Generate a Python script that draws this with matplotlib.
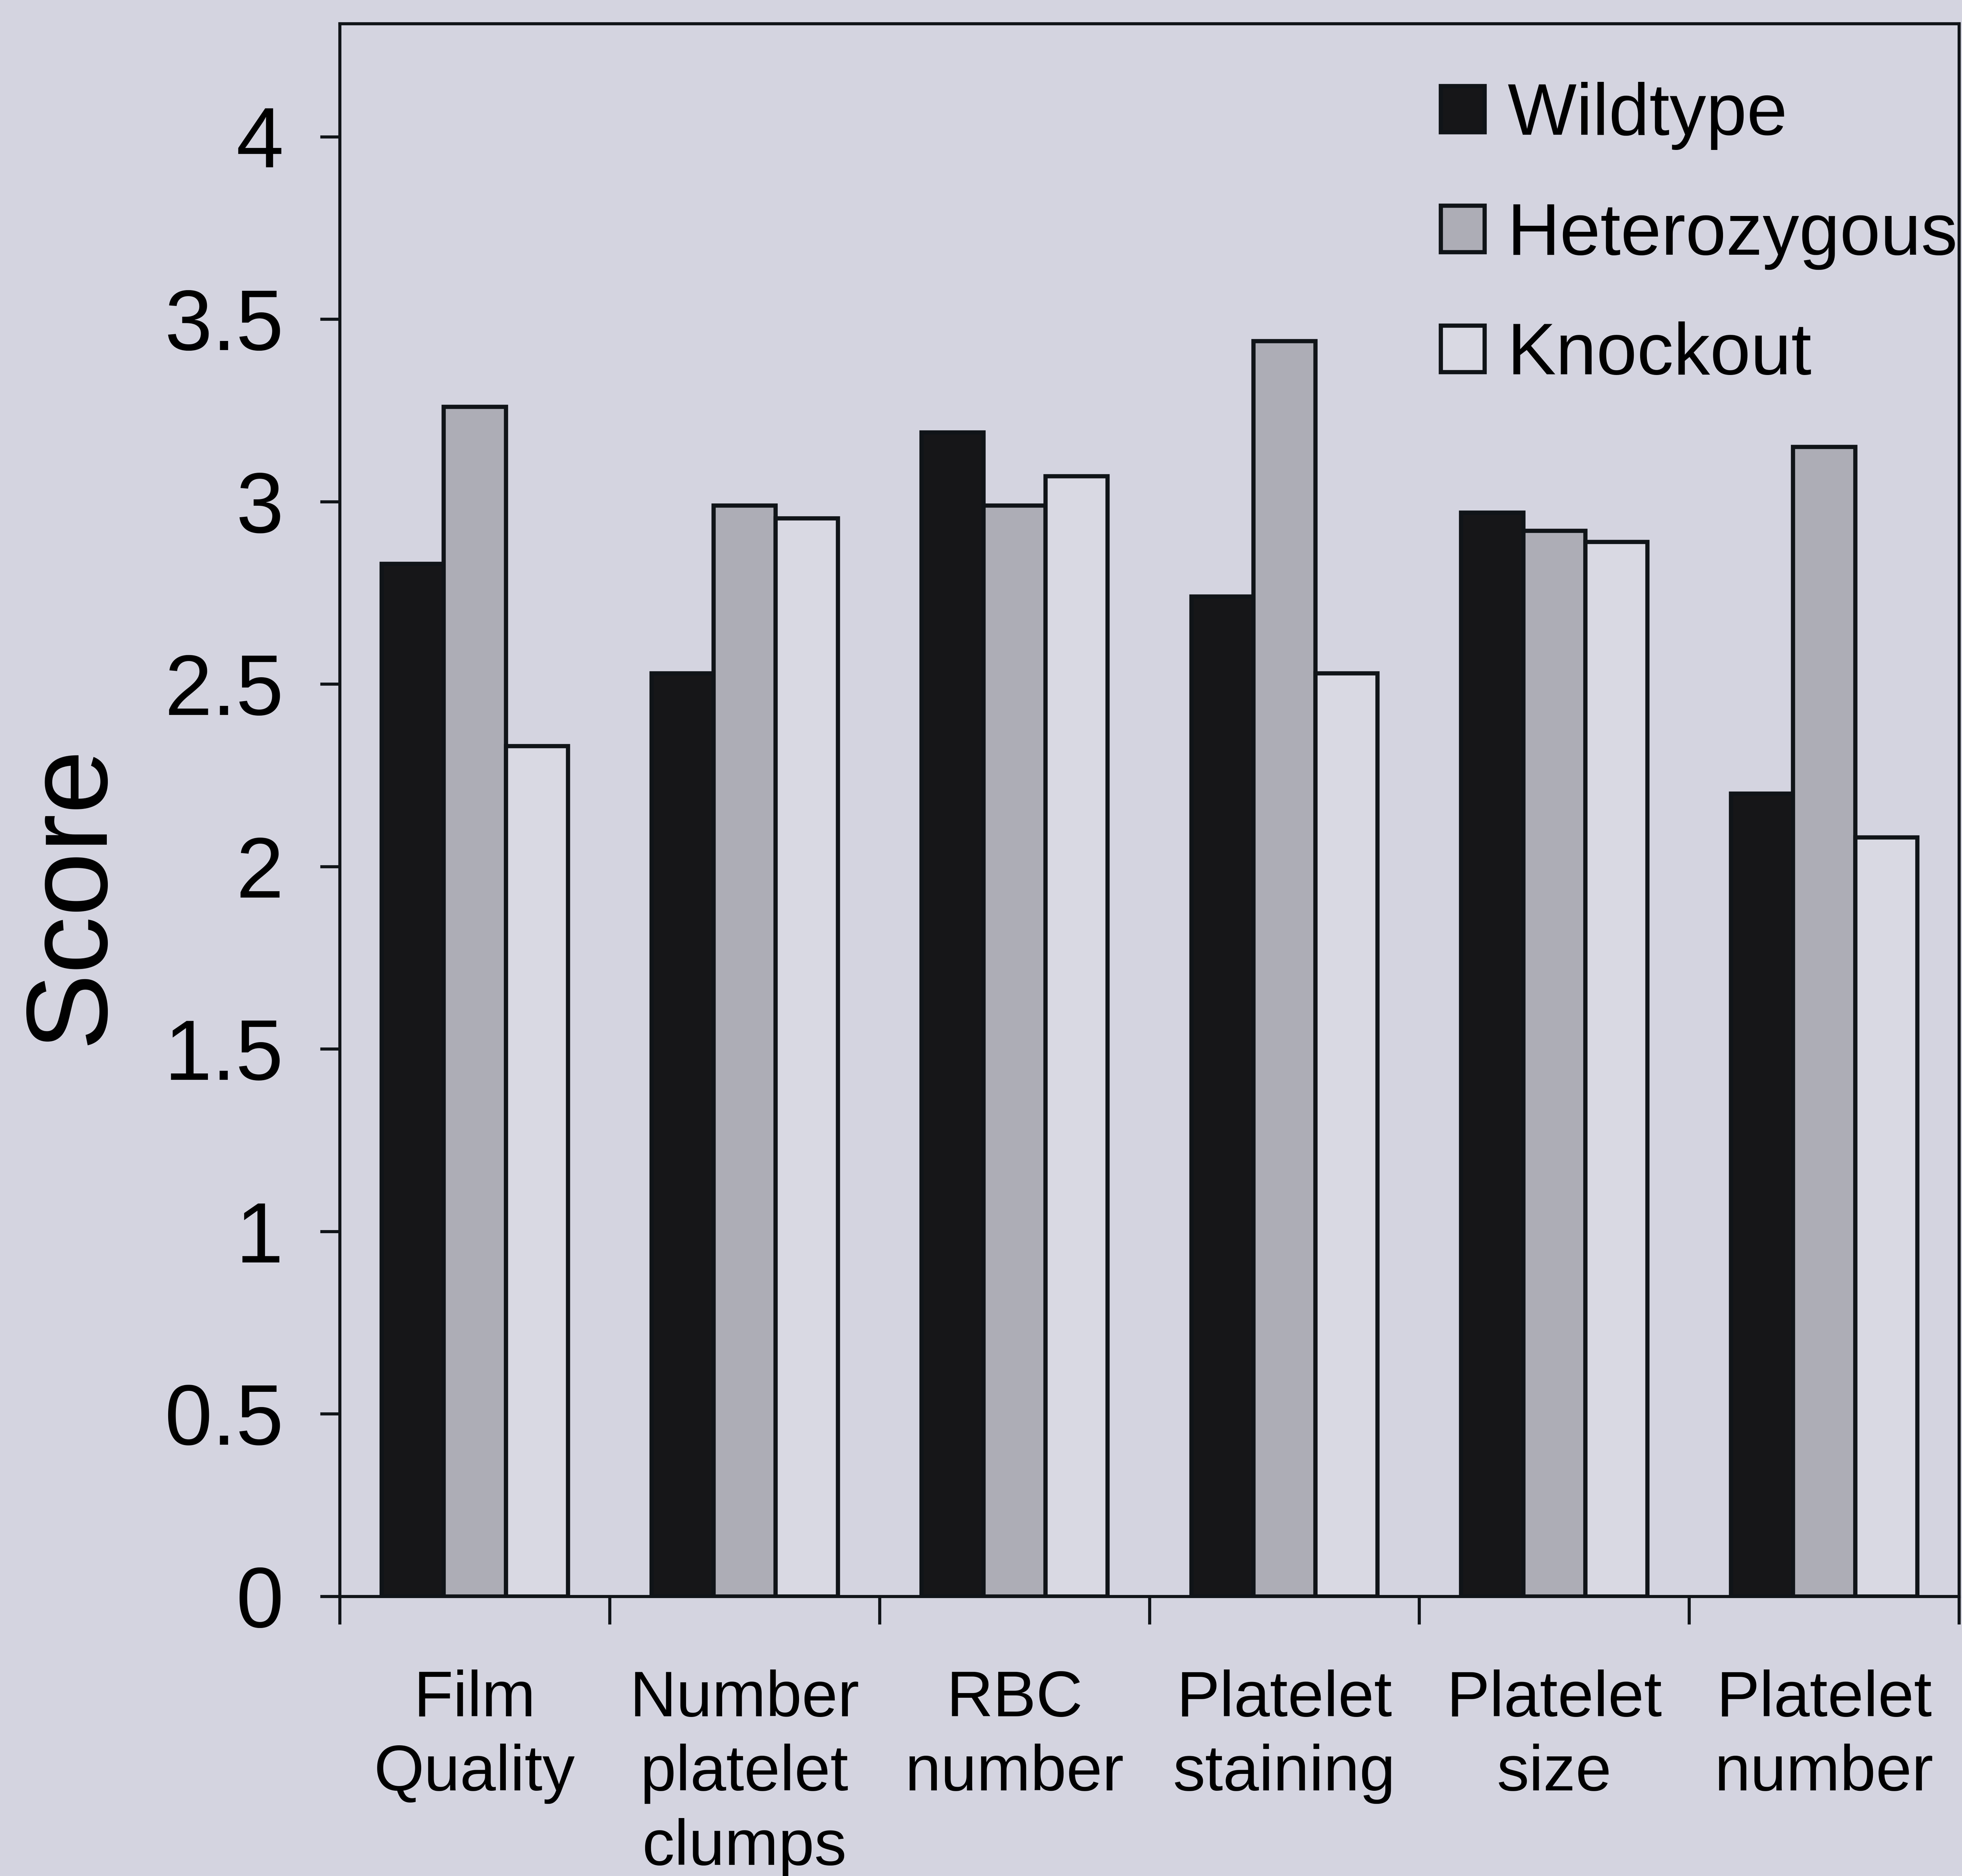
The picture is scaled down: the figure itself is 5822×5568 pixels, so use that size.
import matplotlib
matplotlib.use("Agg")
import matplotlib.pyplot as plt
import numpy as np

categories = ["Film\nQuality", "Number\nplatelet\nclumps", "RBC\nnumber",
              "Platelet\nstaining", "Platelet\nsize", "Platelet\nnumber"]
series_names = ["Wildtype", "Heterozygous", "Knockout"]
wildtype = [2.83, 2.53, 3.19, 2.74, 2.97, 2.20]
heterozygous = [3.26, 2.99, 2.99, 3.44, 2.92, 3.15]
knockout = [2.33, 2.955, 3.07, 2.53, 2.89, 2.08]
y_ticks = [0, 0.5, 1, 1.5, 2, 2.5, 3, 3.5, 4]
y_tick_labels = ["0", "0.5", "1", "1.5", "2", "2.5", "3", "3.5", "4"]

bg = "#d4d4e0"
fills = ["#161618", "#adadb6", "#d9d9e3"]
ink = "#101418"

plt.rcParams["font.family"] = ["Liberation Sans", "DejaVu Sans"]

W, H, DPI = 5822, 5568, 300
fig = plt.figure(figsize=(W / DPI, H / DPI), dpi=DPI, facecolor=bg)
ax = fig.add_axes([1008 / W, 1 - 4738 / H, (5813 - 1008) / W, (4738 - 70) / H])
ax.set_facecolor(bg)

x = np.arange(len(categories))
bw = 0.23
for i, (vals, name) in enumerate(zip([wildtype, heterozygous, knockout], series_names)):
    ax.bar(x + (i - 1) * bw, vals, width=bw, color=fills[i], edgecolor=ink,
           linewidth=3.0, label=name, zorder=3)

ax.set_xlim(-0.5, len(categories) - 0.5)
ax.set_ylim(0, 4.31)

# category boundaries carry the ticks, centers carry the labels
ax.set_xticks(np.arange(len(categories) + 1) - 0.5)
ax.set_xticklabels([])
ax.set_xticks(x, categories, minor=True)
ax.tick_params(axis="x", which="major", direction="out", length=20, width=2.2, color=ink)
ax.tick_params(axis="x", which="minor", length=0, pad=52, labelsize=46)
for lbl in ax.get_xticklabels(minor=True):
    lbl.set_linespacing(1.3)

ax.set_yticks(y_ticks, y_tick_labels)
ax.tick_params(axis="y", direction="out", length=14, width=2.2, color=ink,
               labelsize=61, pad=26)

for s in ax.spines.values():
    s.set_linewidth(2.2)
    s.set_color(ink)

ax.set_ylabel("Score", fontsize=82)
ax.yaxis.set_label_coords(-0.132, 0.446)

ax.legend(loc="upper left", bbox_to_anchor=(0.680, 0.963), frameon=False, fontsize=52,
          handlelength=0.6, handleheight=0.6, handletextpad=0.31, labelspacing=0.71,
          borderpad=0, borderaxespad=0)

fig.savefig("out.png", dpi=DPI, facecolor=bg)
